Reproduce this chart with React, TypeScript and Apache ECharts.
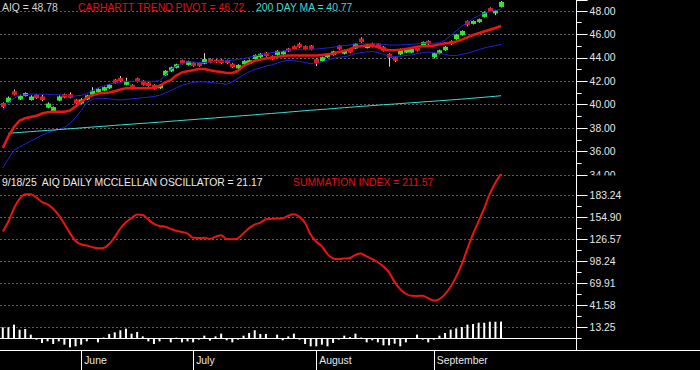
import React, { useEffect, useRef } from "react";
import * as echarts from "echarts";

// ---------- calendar ----------
const holidays = ["2025-05-26", "2025-06-19", "2025-07-04", "2025-09-01"];
function tradingDays(start: [number, number, number], end: [number, number, number]): string[] {
  const out: string[] = [];
  const d = new Date(Date.UTC(start[0], start[1] - 1, start[2]));
  const e = new Date(Date.UTC(end[0], end[1] - 1, end[2]));
  while (d.getTime() <= e.getTime()) {
    const wd = d.getUTCDay();
    const s = d.toISOString().slice(0, 10);
    if (wd !== 0 && wd !== 6 && holidays.indexOf(s) < 0) out.push(s);
    d.setUTCDate(d.getUTCDate() + 1);
  }
  return out;
}
const dates = tradingDays([2025, 5, 12], [2025, 9, 18]);
const padSlots = 13;
const categories = [...dates, ...Array.from({ length: padSlots }, (_, k) => `pad${k}`)];
const monthNames: Record<string, string> = { "06": "June", "07": "July", "08": "August", "09": "September" };

// ---------- price panel ----------
const opens = [
  40.15, 40.2, 41.15, 40.45, 40.75, 40.4, 40.85, 40.7, 39.75, 39.45,
  40.35, 40.9, 40.9, 40.45, 40.1, 40.45, 40.85, 41.05, 41.2, 41.4,
  42.15, 42.3, 41.7, 41.7, 42.25, 42.05, 41.9, 41.7, 41.4, 42.5,
  42.85, 43.15, 43.8, 43.4, 43.6, 43.6, 43.5, 43.9, 43.85, 43.85,
  43.8, 43.5, 43.1, 43.45, 43.5, 43.9, 44.05, 44.45, 44.15, 44.25,
  44.3, 44.8, 45.0, 45.2, 45.0, 45.05, 43.9, 43.7, 44.05, 44.25,
  45.05, 44.35, 44.75, 44.8, 45.65, 44.85, 45.25, 45.2, 44.95, 44.35,
  44.05, 44.3, 44.45, 44.45, 44.85, 45.0, 45.45, 44.05, 44.35, 44.65,
  45.45, 45.6, 45.95, 47.15, 46.9, 47.05, 47.5, 48.25, 47.8, 48.35,
];
const closes = [
  39.8, 40.6, 40.85, 40.75, 41.0, 40.7, 40.55, 40.4, 40.1, 39.8,
  40.7, 40.6, 40.6, 40.1, 40.45, 40.8, 41.2, 41.35, 41.5, 41.7,
  41.85, 42.0, 41.95, 41.35, 41.95, 41.7, 41.6, 41.35, 41.7, 42.9,
  43.2, 43.45, 43.5, 43.7, 43.3, 43.3, 43.9, 43.6, 43.6, 43.55,
  43.55, 43.2, 43.4, 43.75, 43.8, 44.25, 44.35, 44.15, 43.85, 44.6,
  44.55, 44.55, 44.75, 44.9, 44.7, 44.7, 43.55, 44.05, 44.35, 44.55,
  44.75, 44.65, 44.45, 45.2, 45.35, 45.15, 44.95, 44.9, 44.6, 44.0,
  43.75, 44.75, 44.75, 44.75, 44.6, 45.35, 45.15, 44.4, 44.65, 44.95,
  45.15, 46.0, 46.3, 46.8, 47.15, 47.3, 47.9, 48.0, 48.05, 48.78,
];
const lows = [
  39.7, 40.15, 40.8, 40.4, 40.7, 40.35, 40.5, 40.3, 39.7, 39.4,
  40.3, 40.55, 40.55, 39.9, 40.05, 40.4, 40.8, 41.0, 41.15, 41.35,
  41.8, 41.95, 41.65, 41.3, 41.9, 41.65, 41.55, 41.3, 41.35, 42.45,
  42.8, 43.1, 43.45, 43.35, 43.25, 43.25, 43.45, 43.55, 43.55, 43.5,
  43.5, 43.15, 43.05, 43.4, 43.45, 43.85, 44.0, 44.1, 43.8, 44.2,
  44.25, 44.5, 44.7, 44.85, 44.65, 44.65, 43.3, 43.65, 44.0, 44.2,
  44.7, 44.3, 44.4, 44.75, 45.3, 44.8, 44.9, 44.85, 44.55, 43.25,
  43.65, 44.25, 44.4, 44.4, 44.55, 44.95, 45.1, 43.95, 44.3, 44.6,
  45.1, 45.55, 45.9, 46.7, 46.85, 47.0, 47.45, 47.95, 47.65, 48.3,
];
const highs = [
  40.2, 40.7, 41.3, 40.85, 41.05, 40.8, 40.9, 40.85, 40.2, 39.85,
  40.8, 40.95, 41.05, 40.5, 40.55, 40.85, 41.5, 41.4, 41.55, 41.75,
  42.2, 42.45, 42.3, 41.75, 42.3, 42.1, 41.95, 41.75, 41.75, 42.95,
  43.25, 43.5, 43.85, 43.75, 43.65, 43.65, 44.4, 43.95, 43.9, 43.9,
  43.85, 43.55, 43.45, 43.8, 43.85, 44.3, 44.4, 44.5, 44.2, 44.65,
  44.6, 44.85, 45.05, 45.3, 45.05, 45.1, 43.95, 44.1, 44.4, 44.6,
  45.1, 44.7, 44.8, 45.25, 45.75, 45.2, 45.3, 45.25, 45.0, 44.4,
  44.1, 44.8, 44.8, 44.8, 44.9, 45.4, 45.5, 44.45, 44.7, 45.0,
  45.5, 46.05, 46.35, 47.2, 47.2, 47.35, 47.95, 48.3, 48.1, 48.85,
];
const trendPivot = [
  36.3, 37.3, 38.1, 38.65, 38.85, 38.95, 39.05, 39.25, 39.35, 39.4,
  39.4, 39.4, 39.5, 39.85, 40.25, 40.6, 40.8, 40.95, 41.0, 41.05,
  41.15, 41.3, 41.4, 41.4, 41.4, 41.4, 41.4, 41.45, 41.6, 41.9,
  42.1, 42.5, 42.75, 42.85, 42.95, 43.05, 43.05, 42.95, 42.85, 42.8,
  42.7, 42.7, 42.9, 43.3, 43.55, 43.75, 43.85, 43.95, 44.0, 44.1,
  44.15, 44.2, 44.2, 44.2, 44.2, 44.2, 44.2, 44.25, 44.3, 44.35,
  44.5, 44.6, 44.75, 44.95, 45.0, 45.05, 45.05, 44.9, 44.75, 44.65,
  44.65, 44.7, 44.75, 44.85, 44.95, 45.0, 45.0, 45.05, 45.15, 45.25,
  45.3, 45.4, 45.55, 45.75, 45.95, 46.1, 46.25, 46.4, 46.55, 46.72,
];
const upperBand = [
  39.5, 40.2, 40.55, 40.8, 40.85, 40.9, 40.9, 40.9, 40.9, 40.85,
  40.85, 40.8, 40.75, 40.75, 40.8, 40.95, 41.2, 41.45, 41.6, 41.75,
  41.85, 41.9, 42.0, 42.0, 42.0, 42.0, 42.0, 42.0, 42.05, 42.5,
  43.0, 43.3, 43.5, 43.65, 43.65, 43.6, 43.6, 43.65, 43.7, 43.7,
  43.75, 43.8, 43.85, 43.95, 44.05, 44.15, 44.25, 44.35, 44.45, 44.5,
  44.6, 44.65, 44.7, 44.7, 44.7, 44.75, 44.75, 44.8, 44.85, 44.9,
  45.0, 45.05, 45.1, 45.2, 45.2, 45.2, 45.2, 45.2, 45.15, 45.1,
  45.1, 45.1, 45.15, 45.15, 45.2, 45.25, 45.25, 45.25, 45.3, 45.5,
  45.9, 46.3, 46.7, 47.0, 47.35, 47.6, 47.8, 47.95, 48.05, 48.15,
];
const lowerBand = [
  34.6, 35.4, 36.1, 36.4, 36.65, 36.9, 37.15, 37.4, 37.6, 37.8,
  37.9, 38.05, 38.4, 38.9, 39.5, 40.2, 40.45, 40.55, 40.55, 40.5,
  40.45, 40.4, 40.45, 40.5, 40.55, 40.6, 40.65, 40.7, 40.8, 41.0,
  41.2, 41.45, 41.65, 41.8, 41.9, 41.95, 41.95, 41.9, 41.85, 41.8,
  41.75, 41.95, 42.25, 42.55, 42.8, 43.0, 43.15, 43.3, 43.4, 43.55,
  43.7, 43.8, 43.75, 43.7, 43.6, 43.5, 43.5, 43.65, 43.8, 43.95,
  44.05, 44.1, 44.2, 44.35, 44.45, 44.5, 44.55, 44.45, 44.3, 44.15,
  44.1, 44.15, 44.2, 44.25, 44.35, 44.45, 44.5, 44.45, 44.4, 44.3,
  44.2, 44.2, 44.3, 44.4, 44.55, 44.7, 44.85, 44.95, 45.05, 45.15,
];
const ma200: (number | null)[] = [
  null, 37.56, 37.6, 37.63, 37.67, 37.7, 37.74, 37.77, 37.81, 37.84,
  37.88, 37.91, 37.95, 37.98, 38.02, 38.06, 38.09, 38.13, 38.16, 38.2,
  38.24, 38.27, 38.31, 38.34, 38.38, 38.41, 38.44, 38.48, 38.51, 38.55,
  38.59, 38.62, 38.66, 38.7, 38.73, 38.77, 38.81, 38.84, 38.88, 38.92,
  38.95, 38.99, 39.03, 39.07, 39.1, 39.14, 39.18, 39.22, 39.25, 39.29,
  39.33, 39.37, 39.41, 39.45, 39.49, 39.53, 39.56, 39.6, 39.63, 39.67,
  39.71, 39.75, 39.78, 39.82, 39.86, 39.89, 39.93, 39.96, 40.0, 40.03,
  40.06, 40.1, 40.13, 40.17, 40.2, 40.24, 40.27, 40.3, 40.34, 40.37,
  40.41, 40.44, 40.48, 40.52, 40.56, 40.6, 40.64, 40.68, 40.72, 40.77,
];
const priceTickInterval = 2;
const priceMin = 34;
const priceMax = 48.94;

// ---------- breadth panel ----------
const summationIndex = [
  137, 150, 167, 179, 185, 185, 181, 175, 172, 166.5,
  158, 147, 135, 125, 120.5, 119, 117, 115.5, 116, 121,
  130, 141, 149, 154.5, 159, 158.5, 152.5, 147, 144.2, 143.3,
  140.5, 138, 136.5, 134.5, 129, 128.8, 129, 127.5, 130.5, 132.3,
  127.5, 127.3, 128.4, 135, 141.5, 146, 148.5, 153, 153.4, 153.8,
  154.1, 157.5, 159.3, 156, 148, 133, 124, 118, 108, 102.5,
  101.5, 102.3, 103, 107, 108.8, 105, 101.5, 97.5, 92, 84.5,
  72, 63, 57, 54.3, 54.2, 54.5, 51.2, 48.2, 50, 56.5,
  66, 79, 95, 115, 134, 150.5, 167, 186, 200, 211.57,
];
const oscillator = [
  13.7, 14, 17.2, 10.7, 11.6, 4.3, -2.1, -6.4, -4.3, -7.7,
  -4.3, -8.6, -12, -10.7, -8.6, -4.3, -0.8, -5.6, 0.6, 5.2,
  7.3, 9.9, 12, 5.6, 7.7, 2.1, -4.3, -7.7, -4.3, -0.6,
  -5.6, 0.4, -5.6, -4.3, -5.6, -2.1, 3, -3.4, 2.1, 5.6,
  -3, -5.6, -2.1, 3, 6.4, 9.9, 5.2, 5.2, -0.5, 4.3,
  -3, 2.1, 5.6, -2.1, -7.7, -10.7, -10.7, -8.6, -10.7, -6.4,
  -2.1, 3, 1.2, 5.6, 0.5, -5.6, -3, -5.6, -9.4, -9.4,
  -7.3, -10.7, -5.6, -0.5, 4.3, -2.1, -5.6, -2.1, 3, 6.4,
  10.7, 12.4, 14.2, 17.2, 18, 19.7, 19.7, 21, 21, 21.17,
];
const breadthTicks = [13.25, 41.58, 69.91, 98.24, 126.57, 154.9, 183.24];
const breadthMin = -15.45;
const breadthMax = 209.9;

// ---------- styling ----------
const FONT = 'Arial, "Liberation Sans", sans-serif';
const FS = 10.4;
const GRID_LEFT = -2.1;
const GRID_WIDTH = 578.7;
const GREEN = "#2fe62f";
const RED = "#e41a1a";
const GRIDLINE = { show: true, lineStyle: { color: "#5e5e5e", type: [2, 2] as number[], width: 1 } };

export default function App() {
  const ref = useRef<HTMLDivElement>(null);
  useEffect(() => {
    document.body.style.margin = "0";
    document.body.style.background = "#000";
    if (!ref.current) return;
    const chart = echarts.init(ref.current, undefined, { renderer: "svg" });
    const last = dates.length - 1;
    const isMonthStart = (i: number) =>
      i > 0 && i < dates.length && dates[i].slice(5, 7) !== dates[i - 1].slice(5, 7);
    const minorBreadth: number[] = [];
    for (let k = 0; k < breadthTicks.length - 1; k++) minorBreadth.push((breadthTicks[k] + breadthTicks[k + 1]) / 2);
    minorBreadth.unshift(breadthTicks[0] - (breadthTicks[1] - breadthTicks[0]) / 2);

    const candleData = dates.map((_, i) => [i, opens[i], closes[i], lows[i], highs[i]]);

    const option: any = {
      animation: false,
      backgroundColor: "#000",
      grid: [
        { left: GRID_LEFT, top: 0, width: GRID_WIDTH, height: 175 },
        { left: GRID_LEFT, top: 175, width: GRID_WIDTH, height: 175 },
      ],
      xAxis: [
        { type: "category", gridIndex: 0, data: categories, boundaryGap: true, show: false },
        {
          type: "category",
          gridIndex: 1,
          data: categories,
          boundaryGap: true,
          axisLine: { show: true, onZero: false, lineStyle: { color: "#ffffff", width: 1 } },
          axisTick: {
            show: true,
            alignWithLabel: true,
            length: 20,
            interval: (i: number) => isMonthStart(i),
            lineStyle: { color: "#ffffff", width: 1 },
          },
          axisLabel: {
            show: true,
            interval: (i: number) => isMonthStart(i),
            formatter: (v: string) => monthNames[v.slice(5, 7)] || "",
            align: "left",
            padding: [0, 0, 0, 3],
            color: "#e6e6e6",
            fontFamily: FONT,
            fontSize: FS,
            margin: 5,
          },
          splitLine: { show: false },
        },
      ],
      yAxis: [
        {
          type: "value",
          gridIndex: 0,
          position: "right",
          min: priceMin,
          max: priceMax,
          interval: priceTickInterval,
          axisLine: { show: true, lineStyle: { color: "#ffffff" } },
          axisTick: { show: true, length: 11, lineStyle: { color: "#ffffff" } },
          minorTick: { show: true, splitNumber: 2, length: 5, lineStyle: { color: "#ffffff" } },
          axisLabel: {
            color: "#e6e6e6",
            fontFamily: FONT,
            fontSize: FS,
            margin: 13,
            showMaxLabel: false,
            formatter: (v: number) => v.toFixed(2),
          },
          splitLine: { ...GRIDLINE, showMaxLine: false },
        },
        {
          type: "value",
          gridIndex: 1,
          position: "right",
          min: breadthMin,
          max: breadthMax,
          axisLine: { show: true, lineStyle: { color: "#ffffff" } },
          axisTick: { show: true, length: 11, customValues: breadthTicks, lineStyle: { color: "#ffffff" } },
          axisLabel: {
            customValues: breadthTicks,
            color: "#e6e6e6",
            fontFamily: FONT,
            fontSize: FS,
            margin: 13,
            formatter: (v: number) => v.toFixed(2),
          },
          splitLine: GRIDLINE,
        },
        {
          type: "value",
          gridIndex: 1,
          position: "right",
          min: breadthMin,
          max: breadthMax,
          axisLine: { show: false },
          axisTick: { show: true, length: 5, customValues: minorBreadth, lineStyle: { color: "#ffffff" } },
          axisLabel: { show: false },
          splitLine: { show: false },
        },
      ],
      series: [
        {
          name: "Upper band",
          type: "line",
          xAxisIndex: 0,
          yAxisIndex: 0,
          data: upperBand,
          symbol: "none",
          lineStyle: { color: "#2020e0", width: 1 },
        },
        {
          name: "Lower band",
          type: "line",
          xAxisIndex: 0,
          yAxisIndex: 0,
          data: lowerBand,
          symbol: "none",
          lineStyle: { color: "#2020e0", width: 1 },
        },
        {
          name: "200 DAY MA",
          type: "line",
          xAxisIndex: 0,
          yAxisIndex: 0,
          data: ma200,
          symbol: "none",
          lineStyle: { color: "#40dcd0", width: 1 },
        },
        {
          name: "Carhartt trend pivot",
          type: "line",
          xAxisIndex: 0,
          yAxisIndex: 0,
          data: trendPivot,
          symbol: "none",
          lineStyle: { color: "#f01414", width: 2.5 },
        },
        {
          name: "AIQ",
          type: "custom",
          xAxisIndex: 0,
          yAxisIndex: 0,
          data: candleData,
          encode: { x: 0, y: [1, 2, 3, 4] },
          renderItem: (_params: any, api: any) => {
            const x = api.value(0);
            const o = api.value(1);
            const c = api.value(2);
            const l = api.value(3);
            const h = api.value(4);
            const po = api.coord([x, o]);
            const pc = api.coord([x, c]);
            const pl = api.coord([x, l]);
            const ph = api.coord([x, h]);
            const cx = Math.round(po[0]) + 0.5;
            const w = 5;
            const top = Math.min(po[1], pc[1]);
            const hgt = Math.max(Math.abs(po[1] - pc[1]), 1.5);
            return {
              type: "group",
              children: [
                {
                  type: "line",
                  shape: { x1: cx, y1: ph[1], x2: cx, y2: pl[1] },
                  style: { stroke: "#d8d8d8", lineWidth: 1 },
                },
                {
                  type: "rect",
                  shape: { x: cx - w / 2, y: top, width: w, height: hgt },
                  style: { fill: c >= o ? GREEN : RED },
                },
              ],
            };
          },
        },
        {
          name: "Oscillator",
          type: "bar",
          xAxisIndex: 1,
          yAxisIndex: 1,
          data: oscillator,
          barWidth: 2,
          itemStyle: { color: "#ffffff" },
          markLine: {
            silent: true,
            symbol: "none",
            label: { show: false },
            lineStyle: { color: "#ffffff", type: "solid", width: 1 },
            data: [{ yAxis: 0 }],
          },
        },
        {
          name: "Summation index",
          type: "line",
          xAxisIndex: 1,
          yAxisIndex: 1,
          data: summationIndex,
          symbol: "none",
          smooth: 0.3,
          lineStyle: { color: "#ee1212", width: 2 },
        },
      ],
      graphic: [
        {
          type: "text",
          x: 2,
          y: 7,
          z: 50,
          style: { text: `AIQ = ${closes[last].toFixed(2)}`, fill: "#d6d6d6", fontSize: FS, fontFamily: FONT, verticalAlign: "middle" },
        },
        {
          type: "text",
          x: 78,
          y: 7,
          z: 50,
          style: { text: `CARHARTT TREND PIVOT = ${trendPivot[last].toFixed(2)}`, fill: "#e01010", fontSize: FS, fontFamily: FONT, verticalAlign: "middle" },
        },
        {
          type: "text",
          x: 256,
          y: 7,
          z: 50,
          style: { text: `200 DAY MA = ${(ma200[last] as number).toFixed(2)}`, fill: "#40d8d0", fontSize: FS, fontFamily: FONT, verticalAlign: "middle" },
        },
        {
          type: "text",
          x: 2,
          y: 182,
          z: 50,
          style: {
            text: `9/18/25  AIQ DAILY MCCLELLAN OSCILLATOR = ${oscillator[last].toFixed(2)}`,
            fill: "#ececec",
            fontSize: FS,
            fontFamily: FONT,
            verticalAlign: "middle",
          },
        },
        {
          type: "text",
          x: 293,
          y: 182,
          z: 50,
          style: { text: `SUMMATION INDEX = ${summationIndex[last].toFixed(2)}`, fill: "#e01010", fontSize: FS, fontFamily: FONT, verticalAlign: "middle" },
        },
        {
          type: "rect",
          z: 60,
          shape: { x: 589, y: 175.5, width: 50, height: 8 },
          style: { fill: "#000000" },
        },
        {
          type: "line",
          z: 60,
          shape: { x1: 576, y1: 350.5, x2: 700, y2: 350.5 },
          style: { stroke: "#ffffff", lineWidth: 1 },
        },
      ],
    };
    chart.setOption(option);
    return () => chart.dispose();
  }, []);
  return <div ref={ref} style={{ width: 700, height: 370, background: "#000" }} />;
}
